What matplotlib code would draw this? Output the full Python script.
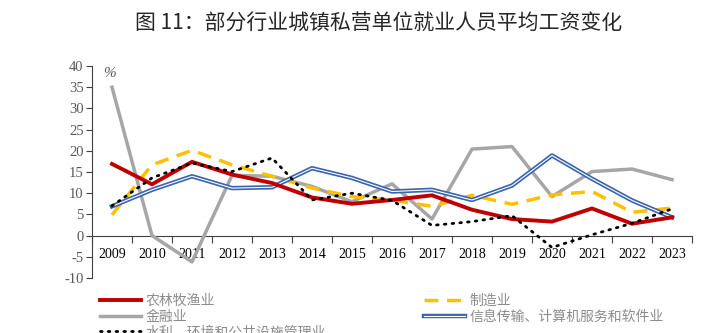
import matplotlib
matplotlib.use("Agg")
import matplotlib.pyplot as plt
import matplotlib.patheffects as pe
import numpy as np

years = ["2009", "2010", "2011", "2012", "2013", "2014", "2015", "2016",
         "2017", "2018", "2019", "2020", "2021", "2022", "2023"]
agri = [16.9, 12.1, 17.4, 14.4, 12.4, 9.0, 7.5, 8.4, 9.5, 6.1, 3.9, 3.3, 6.4, 2.8, 4.3]
manuf = [4.9, 16.7, 20.1, 16.7, 14.0, 11.2, 9.2, 8.4, 6.9, 9.5, 7.4, 9.6, 10.4, 5.5, 6.5]
finance = [35.0, 0.0, -6.2, 14.2, 14.0, 11.6, 8.0, 12.2, 3.9, 20.4, 21.0, 9.2, 15.1, 15.7, 13.2]
it = [6.9, 10.8, 14.0, 11.2, 11.4, 15.9, 13.6, 10.4, 10.8, 8.4, 11.8, 18.9, 13.4, 8.3, 4.3]
water = [7.0, 13.6, 17.1, 15.1, 18.3, 8.4, 10.0, 8.3, 2.4, 3.3, 4.7, -2.8, 0.2, 2.9, 6.3]

names = ["农林牧渔业", "制造业", "金融业", "信息传输、计算机服务和软件业", "水利、环境和公共设施管理业"]
title = "图 11：部分行业城镇私营单位就业人员平均工资变化"

cjk = ["Noto Sans CJK SC", "DejaVu Sans"]
plt.rcParams["font.family"] = ["Liberation Serif", "DejaVu Serif"]

fig = plt.figure(figsize=(7.24, 3.33), dpi=100)
ax = fig.add_axes([92/724, 1-278/333, 600/724, (278-66)/333])
x = np.arange(len(years))

l_agri, = ax.plot(x, agri, color="#C00000", lw=2.8, solid_joinstyle="miter", zorder=5)
l_man, = ax.plot(x, manuf, color="#FFC000", lw=2.5, linestyle=(0, (4, 2.5)), zorder=4)
l_fin, = ax.plot(x, finance, color="#A6A6A6", lw=2.5, zorder=3)
l_it, = ax.plot(x, it, color="white", lw=0.8, zorder=4,
                path_effects=[pe.Stroke(linewidth=3.2, foreground="#3A64AE"), pe.Normal()])
l_wat, = ax.plot(x, water, color="black", lw=2.0, linestyle=(0, (0.6, 2.2)),
                 dash_capstyle="round", zorder=6)

ax.set_xlim(-0.5, len(years) - 0.5)
ax.set_ylim(-10, 40)
ax.set_yticks(np.arange(-10, 41, 5))
ax.set_yticklabels([str(v) for v in range(-10, 41, 5)], fontsize=10.5, color="#595959")
ax.tick_params(axis="y", direction="out", length=4, color="#404040", width=0.8, pad=2)

ax.set_xticks(np.arange(-0.5, len(years)), minor=False)
ax.set_xticklabels([])
ax.tick_params(axis="x", which="major", direction="out", length=5, color="#404040", width=0.8)
ax.set_xticks(x, minor=True)
ax.set_xticklabels(years, minor=True, fontsize=10.5, color="#595959")
ax.tick_params(axis="x", which="minor", length=0, pad=9)

for s in ["top", "right"]:
    ax.spines[s].set_visible(False)
ax.spines["bottom"].set_position(("data", 0))
ax.spines["bottom"].set_color("#404040")
ax.spines["left"].set_color("#404040")
ax.spines["bottom"].set_linewidth(0.8)
ax.spines["left"].set_linewidth(0.8)

ax.text(0.018, 0.995, "%", transform=ax.transAxes, fontsize=11,
        color="#595959", style="italic", va="top", ha="left")

fig.text(0.5235, 0.93, title, family=cjk, fontsize=15, color="#262626", ha="center", va="center")

handles = [l_agri, l_fin, l_wat, l_man, l_it]
labels = [names[0], names[2], names[4], names[1], names[3]]
fig.legend(handles, labels, ncol=2, loc="upper left", bbox_to_anchor=(100/724, 1-294/333),
           frameon=False, prop={"family": cjk, "size": 10}, labelcolor="#8c8c8c",
           handlelength=2.95, handletextpad=0.36, columnspacing=7.0, labelspacing=0.12,
           borderaxespad=0, borderpad=0)

fig.savefig("out.png", dpi=100)
